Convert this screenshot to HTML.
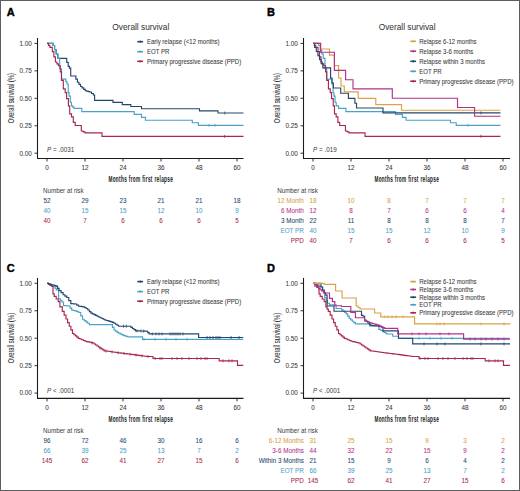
<!DOCTYPE html>
<html><head><meta charset="utf-8"><style>
html,body{margin:0;padding:0;background:#fff;}
body{width:520px;height:491px;overflow:hidden;position:relative;}
svg{position:absolute;left:0;top:0;}
text{font-family:"Liberation Sans", sans-serif;stroke-width:0.06px;}
</style></head><body>
<svg width="520" height="491" viewBox="0 0 520 491">
<rect x="0" y="0" width="520" height="491" fill="#fff"/>
<text x="6.80" y="16.10" font-size="11" fill="#000" stroke="#000" text-anchor="start" font-weight="bold" style="stroke-width:0.4px">A</text>
<text x="0" y="0" font-size="8.5" fill="#3a3a3a" stroke="#3a3a3a" text-anchor="middle" transform="translate(140.80,30.00) scale(0.98,1)" >Overall survival</text>
<line x1="37.5" y1="38" x2="37.5" y2="158.5" stroke="#1c1c1c" stroke-width="1.1"/>
<line x1="37.0" y1="158.5" x2="243.5" y2="158.5" stroke="#1c1c1c" stroke-width="1.1"/>
<line x1="34.5" y1="153.20" x2="37.5" y2="153.20" stroke="#1c1c1c" stroke-width="0.9"/>
<text x="31.90" y="155.50" font-size="6.4" fill="#3a3a3a" stroke="#3a3a3a" text-anchor="end" >0.00</text>
<line x1="34.5" y1="125.75" x2="37.5" y2="125.75" stroke="#1c1c1c" stroke-width="0.9"/>
<text x="31.90" y="128.05" font-size="6.4" fill="#3a3a3a" stroke="#3a3a3a" text-anchor="end" >0.25</text>
<line x1="34.5" y1="98.30" x2="37.5" y2="98.30" stroke="#1c1c1c" stroke-width="0.9"/>
<text x="31.90" y="100.60" font-size="6.4" fill="#3a3a3a" stroke="#3a3a3a" text-anchor="end" >0.50</text>
<line x1="34.5" y1="70.85" x2="37.5" y2="70.85" stroke="#1c1c1c" stroke-width="0.9"/>
<text x="31.90" y="73.15" font-size="6.4" fill="#3a3a3a" stroke="#3a3a3a" text-anchor="end" >0.75</text>
<line x1="34.5" y1="43.40" x2="37.5" y2="43.40" stroke="#1c1c1c" stroke-width="0.9"/>
<text x="31.90" y="45.70" font-size="6.4" fill="#3a3a3a" stroke="#3a3a3a" text-anchor="end" >1.00</text>
<line x1="47.00" y1="158.5" x2="47.00" y2="161.5" stroke="#1c1c1c" stroke-width="0.9"/>
<text x="47.00" y="170.00" font-size="6.4" fill="#3a3a3a" stroke="#3a3a3a" text-anchor="middle" >0</text>
<line x1="85.00" y1="158.5" x2="85.00" y2="161.5" stroke="#1c1c1c" stroke-width="0.9"/>
<text x="85.00" y="170.00" font-size="6.4" fill="#3a3a3a" stroke="#3a3a3a" text-anchor="middle" >12</text>
<line x1="123.00" y1="158.5" x2="123.00" y2="161.5" stroke="#1c1c1c" stroke-width="0.9"/>
<text x="123.00" y="170.00" font-size="6.4" fill="#3a3a3a" stroke="#3a3a3a" text-anchor="middle" >24</text>
<line x1="161.00" y1="158.5" x2="161.00" y2="161.5" stroke="#1c1c1c" stroke-width="0.9"/>
<text x="161.00" y="170.00" font-size="6.4" fill="#3a3a3a" stroke="#3a3a3a" text-anchor="middle" >36</text>
<line x1="199.00" y1="158.5" x2="199.00" y2="161.5" stroke="#1c1c1c" stroke-width="0.9"/>
<text x="199.00" y="170.00" font-size="6.4" fill="#3a3a3a" stroke="#3a3a3a" text-anchor="middle" >48</text>
<line x1="237.00" y1="158.5" x2="237.00" y2="161.5" stroke="#1c1c1c" stroke-width="0.9"/>
<text x="237.00" y="170.00" font-size="6.4" fill="#3a3a3a" stroke="#3a3a3a" text-anchor="middle" >60</text>
<text x="0" y="0" font-size="8.4" fill="#262626" text-anchor="middle" transform="translate(140.80,181.8) scale(0.56,1)" font-weight="bold" letter-spacing="0.6" stroke="#262626" stroke-width="0">Months from first relapse</text>
<text x="0" y="0" font-size="8.5" fill="#333" text-anchor="middle" transform="translate(14.40,98.2) rotate(-90) scale(0.685,1)" stroke="#333" stroke-width="0.25">Overall survival (%)</text>
<line x1="137.30" y1="41.70" x2="143.10" y2="41.70" stroke="#26486c" stroke-width="1.6"/>
<line x1="140.20" y1="40.40" x2="140.20" y2="43.00" stroke="#26486c" stroke-width="0.8"/>
<text x="0" y="0" font-size="6.4" fill="#3a3a3a" stroke="#3a3a3a" text-anchor="start" transform="translate(146.90,44.00) scale(0.945,1)" >Early relapse (&lt;12 months)</text>
<line x1="137.30" y1="51.70" x2="143.10" y2="51.70" stroke="#4aa2c8" stroke-width="1.6"/>
<line x1="140.20" y1="50.40" x2="140.20" y2="53.00" stroke="#4aa2c8" stroke-width="0.8"/>
<text x="0" y="0" font-size="6.4" fill="#3a3a3a" stroke="#3a3a3a" text-anchor="start" transform="translate(146.90,54.00) scale(0.945,1)" >EOT PR</text>
<line x1="137.30" y1="61.30" x2="143.10" y2="61.30" stroke="#a8284c" stroke-width="1.6"/>
<line x1="140.20" y1="60.00" x2="140.20" y2="62.60" stroke="#a8284c" stroke-width="0.8"/>
<text x="0" y="0" font-size="6.4" fill="#3a3a3a" stroke="#3a3a3a" text-anchor="start" transform="translate(146.90,63.60) scale(0.945,1)" >Primary progressive disease (PPD)</text>
<text x="47" y="151.6" font-size="6.3" fill="#3a3a3a"><tspan font-style="italic">P</tspan> = .0031</text>
<path d="M47.00,43.40L53.00,43.40L53.00,45.50H54.60V49.77H56.20V54.03H57.80V58.30L65.20,58.30H66.70V62.30H68.20V66.30H69.45V68.15H70.70V70.00L70.70,76.00L74.30,76.00H75.85V79.10H77.40V82.20H78.95V84.35H80.50V86.50H82.10V87.90H83.70V89.30H85.30V90.70H86.73V91.13H88.17V91.57H89.60V92.00H91.45V93.50H93.30V95.00H94.60V100.40L113.00,100.40L113.00,102.30L122.30,102.30L122.30,104.60L130.80,104.60L130.80,106.50L141.50,106.50L141.50,108.70L199.50,108.70L199.50,110.90L218.00,110.90L218.00,113.00L243.50,113.00" fill="none" stroke="#26486c" stroke-width="1.15" stroke-linejoin="miter"/>
<path d="M47.00,43.40L53.00,43.40L53.00,45.50H54.60V49.77H56.20V54.03H57.80V58.30H59.65V68.70H61.50V79.10L64.60,79.10H65.80V81.55H67.00V84.00H68.20V92.60H69.10V96.10H70.30V102.20H71.50V105.90H72.75V107.10H74.00V108.30L81.80,108.30L81.80,111.60L134.20,111.60L134.20,114.30L141.50,114.30L141.50,117.40L145.40,117.40L145.40,120.20L192.30,120.20L192.30,122.70L198.40,122.70L198.40,125.30L243.50,125.30" fill="none" stroke="#4aa2c8" stroke-width="1.15" stroke-linejoin="miter"/>
<path d="M47.00,43.40H48.45V45.35H49.90V47.30H52.30V51.60H53.85V56.80H55.40V62.00H56.90V63.85H58.40V65.70H60.30V71.80H61.50V80.30H63.30V88.90H65.20V92.60H66.60V98.60H68.40V105.90H69.70V113.80H71.50V116.90H73.30V122.40H75.20V125.50L80.70,125.50H81.30V131.00H83.15V131.90H85.00V132.80L102.00,132.80L102.00,136.30L243.50,136.30" fill="none" stroke="#a8284c" stroke-width="1.15" stroke-linejoin="miter"/>
<line x1="224.80" y1="111.50" x2="224.80" y2="114.50" stroke="#26486c" stroke-width="0.8"/>
<line x1="224.60" y1="134.90" x2="224.60" y2="137.90" stroke="#a8284c" stroke-width="0.8"/>
<line x1="209.00" y1="123.80" x2="209.00" y2="126.80" stroke="#4aa2c8" stroke-width="0.8"/>
<line x1="215.00" y1="123.80" x2="215.00" y2="126.80" stroke="#4aa2c8" stroke-width="0.8"/>
<text x="43.0" y="192.9" font-size="6.3" fill="#3a3a3a" textLength="40.6" lengthAdjust="spacingAndGlyphs">Number at risk</text>
<text x="47.00" y="202.80" font-size="6.3" fill="#26486c" stroke="#26486c" text-anchor="middle" >52</text>
<text x="85.00" y="202.80" font-size="6.3" fill="#26486c" stroke="#26486c" text-anchor="middle" >29</text>
<text x="123.00" y="202.80" font-size="6.3" fill="#26486c" stroke="#26486c" text-anchor="middle" >23</text>
<text x="161.00" y="202.80" font-size="6.3" fill="#26486c" stroke="#26486c" text-anchor="middle" >21</text>
<text x="199.00" y="202.80" font-size="6.3" fill="#26486c" stroke="#26486c" text-anchor="middle" >21</text>
<text x="237.00" y="202.80" font-size="6.3" fill="#26486c" stroke="#26486c" text-anchor="middle" >18</text>
<text x="47.00" y="212.80" font-size="6.3" fill="#4aa2c8" stroke="#4aa2c8" text-anchor="middle" >40</text>
<text x="85.00" y="212.80" font-size="6.3" fill="#4aa2c8" stroke="#4aa2c8" text-anchor="middle" >15</text>
<text x="123.00" y="212.80" font-size="6.3" fill="#4aa2c8" stroke="#4aa2c8" text-anchor="middle" >15</text>
<text x="161.00" y="212.80" font-size="6.3" fill="#4aa2c8" stroke="#4aa2c8" text-anchor="middle" >12</text>
<text x="199.00" y="212.80" font-size="6.3" fill="#4aa2c8" stroke="#4aa2c8" text-anchor="middle" >10</text>
<text x="237.00" y="212.80" font-size="6.3" fill="#4aa2c8" stroke="#4aa2c8" text-anchor="middle" >9</text>
<text x="47.00" y="222.80" font-size="6.3" fill="#a8284c" stroke="#a8284c" text-anchor="middle" >40</text>
<text x="85.00" y="222.80" font-size="6.3" fill="#a8284c" stroke="#a8284c" text-anchor="middle" >7</text>
<text x="123.00" y="222.80" font-size="6.3" fill="#a8284c" stroke="#a8284c" text-anchor="middle" >6</text>
<text x="161.00" y="222.80" font-size="6.3" fill="#a8284c" stroke="#a8284c" text-anchor="middle" >6</text>
<text x="199.00" y="222.80" font-size="6.3" fill="#a8284c" stroke="#a8284c" text-anchor="middle" >6</text>
<text x="237.00" y="222.80" font-size="6.3" fill="#a8284c" stroke="#a8284c" text-anchor="middle" >5</text>
<text x="267.00" y="16.10" font-size="11" fill="#000" stroke="#000" text-anchor="start" font-weight="bold" style="stroke-width:0.4px">B</text>
<text x="0" y="0" font-size="8.5" fill="#3a3a3a" stroke="#3a3a3a" text-anchor="middle" transform="translate(407.10,30.00) scale(0.98,1)" >Overall survival</text>
<line x1="303.5" y1="38" x2="303.5" y2="158.5" stroke="#1c1c1c" stroke-width="1.1"/>
<line x1="303.0" y1="158.5" x2="510.0" y2="158.5" stroke="#1c1c1c" stroke-width="1.1"/>
<line x1="300.5" y1="153.20" x2="303.5" y2="153.20" stroke="#1c1c1c" stroke-width="0.9"/>
<text x="297.90" y="155.50" font-size="6.4" fill="#3a3a3a" stroke="#3a3a3a" text-anchor="end" >0.00</text>
<line x1="300.5" y1="125.75" x2="303.5" y2="125.75" stroke="#1c1c1c" stroke-width="0.9"/>
<text x="297.90" y="128.05" font-size="6.4" fill="#3a3a3a" stroke="#3a3a3a" text-anchor="end" >0.25</text>
<line x1="300.5" y1="98.30" x2="303.5" y2="98.30" stroke="#1c1c1c" stroke-width="0.9"/>
<text x="297.90" y="100.60" font-size="6.4" fill="#3a3a3a" stroke="#3a3a3a" text-anchor="end" >0.50</text>
<line x1="300.5" y1="70.85" x2="303.5" y2="70.85" stroke="#1c1c1c" stroke-width="0.9"/>
<text x="297.90" y="73.15" font-size="6.4" fill="#3a3a3a" stroke="#3a3a3a" text-anchor="end" >0.75</text>
<line x1="300.5" y1="43.40" x2="303.5" y2="43.40" stroke="#1c1c1c" stroke-width="0.9"/>
<text x="297.90" y="45.70" font-size="6.4" fill="#3a3a3a" stroke="#3a3a3a" text-anchor="end" >1.00</text>
<line x1="313.00" y1="158.5" x2="313.00" y2="161.5" stroke="#1c1c1c" stroke-width="0.9"/>
<text x="313.00" y="170.00" font-size="6.4" fill="#3a3a3a" stroke="#3a3a3a" text-anchor="middle" >0</text>
<line x1="351.00" y1="158.5" x2="351.00" y2="161.5" stroke="#1c1c1c" stroke-width="0.9"/>
<text x="351.00" y="170.00" font-size="6.4" fill="#3a3a3a" stroke="#3a3a3a" text-anchor="middle" >12</text>
<line x1="389.00" y1="158.5" x2="389.00" y2="161.5" stroke="#1c1c1c" stroke-width="0.9"/>
<text x="389.00" y="170.00" font-size="6.4" fill="#3a3a3a" stroke="#3a3a3a" text-anchor="middle" >24</text>
<line x1="427.00" y1="158.5" x2="427.00" y2="161.5" stroke="#1c1c1c" stroke-width="0.9"/>
<text x="427.00" y="170.00" font-size="6.4" fill="#3a3a3a" stroke="#3a3a3a" text-anchor="middle" >36</text>
<line x1="465.00" y1="158.5" x2="465.00" y2="161.5" stroke="#1c1c1c" stroke-width="0.9"/>
<text x="465.00" y="170.00" font-size="6.4" fill="#3a3a3a" stroke="#3a3a3a" text-anchor="middle" >48</text>
<line x1="503.00" y1="158.5" x2="503.00" y2="161.5" stroke="#1c1c1c" stroke-width="0.9"/>
<text x="503.00" y="170.00" font-size="6.4" fill="#3a3a3a" stroke="#3a3a3a" text-anchor="middle" >60</text>
<text x="0" y="0" font-size="8.4" fill="#262626" text-anchor="middle" transform="translate(406.80,181.8) scale(0.56,1)" font-weight="bold" letter-spacing="0.6" stroke="#262626" stroke-width="0">Months from first relapse</text>
<text x="0" y="0" font-size="8.5" fill="#333" text-anchor="middle" transform="translate(280.40,98.2) rotate(-90) scale(0.685,1)" stroke="#333" stroke-width="0.25">Overall survival (%)</text>
<line x1="410.30" y1="41.30" x2="416.10" y2="41.30" stroke="#daa24a" stroke-width="1.6"/>
<line x1="413.20" y1="40.00" x2="413.20" y2="42.60" stroke="#daa24a" stroke-width="0.8"/>
<text x="0" y="0" font-size="6.4" fill="#3a3a3a" stroke="#3a3a3a" text-anchor="start" transform="translate(419.20,43.60) scale(0.945,1)" >Relapse 6-12 months</text>
<line x1="410.30" y1="51.20" x2="416.10" y2="51.20" stroke="#b4318a" stroke-width="1.6"/>
<line x1="413.20" y1="49.90" x2="413.20" y2="52.50" stroke="#b4318a" stroke-width="0.8"/>
<text x="0" y="0" font-size="6.4" fill="#3a3a3a" stroke="#3a3a3a" text-anchor="start" transform="translate(419.20,53.50) scale(0.945,1)" >Relapse 3-6 months</text>
<line x1="410.30" y1="61.30" x2="416.10" y2="61.30" stroke="#26486c" stroke-width="1.6"/>
<line x1="413.20" y1="60.00" x2="413.20" y2="62.60" stroke="#26486c" stroke-width="0.8"/>
<text x="0" y="0" font-size="6.4" fill="#3a3a3a" stroke="#3a3a3a" text-anchor="start" transform="translate(419.20,63.60) scale(0.945,1)" >Relapse within 3 months</text>
<line x1="410.30" y1="71.30" x2="416.10" y2="71.30" stroke="#4aa2c8" stroke-width="1.6"/>
<line x1="413.20" y1="70.00" x2="413.20" y2="72.60" stroke="#4aa2c8" stroke-width="0.8"/>
<text x="0" y="0" font-size="6.4" fill="#3a3a3a" stroke="#3a3a3a" text-anchor="start" transform="translate(419.20,73.60) scale(0.945,1)" >EOT PR</text>
<line x1="410.30" y1="81.20" x2="416.10" y2="81.20" stroke="#a8284c" stroke-width="1.6"/>
<line x1="413.20" y1="79.90" x2="413.20" y2="82.50" stroke="#a8284c" stroke-width="0.8"/>
<text x="0" y="0" font-size="6.4" fill="#3a3a3a" stroke="#3a3a3a" text-anchor="start" transform="translate(419.20,83.50) scale(0.945,1)" >Primary progressive disease (PPD)</text>
<text x="313.0" y="151.6" font-size="6.3" fill="#3a3a3a"><tspan font-style="italic">P</tspan> = .019</text>
<path d="M313.00,43.40L318.68,43.40L318.68,45.50H320.19V49.77H321.70V54.03H323.22V58.30H324.97V68.70H326.72V79.10L329.65,79.10H331.92V84.00H333.06V92.60H333.91V96.10H335.04V102.20H336.18V105.90H338.54V108.30L345.92,108.30L345.92,111.60L395.49,111.60L395.49,114.30L402.40,114.30L402.40,117.40L406.09,117.40L406.09,120.20L450.45,120.20L450.45,122.70L456.22,122.70L456.22,125.30L500.50,125.30" fill="none" stroke="#4aa2c8" stroke-width="1.15" stroke-linejoin="miter"/>
<path d="M313.00,43.40H314.37V45.35H315.74V47.30H318.01V51.60H319.48V56.80H320.95V62.00H322.37V63.85H323.78V65.70H325.58V71.80H326.72V80.30H328.42V88.90H330.22V92.60H331.54V98.60H333.24V105.90H334.47V113.80H336.18V116.90H337.88V122.40H339.68V125.50L344.88,125.50H345.45V131.00H347.20V131.90H348.95V132.80L365.03,132.80L365.03,136.30L500.50,136.30" fill="none" stroke="#a8284c" stroke-width="1.15" stroke-linejoin="miter"/>
<path d="M313.00,43.40H314.63V47.47H316.27V51.53H317.90V55.60H319.53V59.67H321.17V63.73H322.80V67.80L330.60,67.80L330.60,78.00H332.00V83.00H333.40V88.00L340.70,88.00L340.70,93.20L348.40,93.20L348.40,98.30L354.90,98.30L354.90,103.20L356.50,103.20L356.50,108.00L383.00,108.00L383.00,112.90L500.50,112.90" fill="none" stroke="#26486c" stroke-width="1.15" stroke-linejoin="miter"/>
<path d="M313.00,43.40L320.60,43.40L320.60,49.00L329.50,49.00L329.50,55.10L334.40,55.10L334.40,65.60L338.60,65.60L338.60,78.00L341.00,78.00L341.00,86.00L344.30,86.00L344.30,91.80L358.20,91.80L358.20,98.30L375.80,98.30L375.80,104.60L401.50,104.60L401.50,110.20L500.50,110.20" fill="none" stroke="#daa24a" stroke-width="1.15" stroke-linejoin="miter"/>
<path d="M313.00,43.40L320.60,43.40L320.60,52.20L334.40,52.20L334.40,70.30L345.60,70.30L345.60,79.70L353.00,79.70L353.00,88.90L392.30,88.90L392.30,98.20L457.50,98.20L457.50,107.50L474.60,107.50L474.60,116.20L500.50,116.20" fill="none" stroke="#b4318a" stroke-width="1.15" stroke-linejoin="miter"/>
<line x1="481.00" y1="111.40" x2="481.00" y2="114.40" stroke="#26486c" stroke-width="0.8"/>
<line x1="481.00" y1="134.80" x2="481.00" y2="137.80" stroke="#a8284c" stroke-width="0.8"/>
<line x1="468.00" y1="123.80" x2="468.00" y2="126.80" stroke="#4aa2c8" stroke-width="0.8"/>
<text x="277.2" y="192.9" font-size="6.3" fill="#3a3a3a" textLength="40.6" lengthAdjust="spacingAndGlyphs">Number at risk</text>
<text x="303.80" y="202.80" font-size="6.3" fill="#daa24a" stroke="#daa24a" text-anchor="end" >12 Month</text>
<text x="303.80" y="212.80" font-size="6.3" fill="#b4318a" stroke="#b4318a" text-anchor="end" >6 Month</text>
<text x="303.80" y="222.80" font-size="6.3" fill="#26486c" stroke="#26486c" text-anchor="end" >3 Month</text>
<text x="303.80" y="232.80" font-size="6.3" fill="#4aa2c8" stroke="#4aa2c8" text-anchor="end" >EOT PR</text>
<text x="303.80" y="242.80" font-size="6.3" fill="#a8284c" stroke="#a8284c" text-anchor="end" >PPD</text>
<text x="313.00" y="202.80" font-size="6.3" fill="#daa24a" stroke="#daa24a" text-anchor="middle" >18</text>
<text x="351.00" y="202.80" font-size="6.3" fill="#daa24a" stroke="#daa24a" text-anchor="middle" >10</text>
<text x="389.00" y="202.80" font-size="6.3" fill="#daa24a" stroke="#daa24a" text-anchor="middle" >8</text>
<text x="427.00" y="202.80" font-size="6.3" fill="#daa24a" stroke="#daa24a" text-anchor="middle" >7</text>
<text x="465.00" y="202.80" font-size="6.3" fill="#daa24a" stroke="#daa24a" text-anchor="middle" >7</text>
<text x="503.00" y="202.80" font-size="6.3" fill="#daa24a" stroke="#daa24a" text-anchor="middle" >7</text>
<text x="313.00" y="212.80" font-size="6.3" fill="#b4318a" stroke="#b4318a" text-anchor="middle" >12</text>
<text x="351.00" y="212.80" font-size="6.3" fill="#b4318a" stroke="#b4318a" text-anchor="middle" >8</text>
<text x="389.00" y="212.80" font-size="6.3" fill="#b4318a" stroke="#b4318a" text-anchor="middle" >7</text>
<text x="427.00" y="212.80" font-size="6.3" fill="#b4318a" stroke="#b4318a" text-anchor="middle" >6</text>
<text x="465.00" y="212.80" font-size="6.3" fill="#b4318a" stroke="#b4318a" text-anchor="middle" >6</text>
<text x="503.00" y="212.80" font-size="6.3" fill="#b4318a" stroke="#b4318a" text-anchor="middle" >4</text>
<text x="313.00" y="222.80" font-size="6.3" fill="#26486c" stroke="#26486c" text-anchor="middle" >22</text>
<text x="351.00" y="222.80" font-size="6.3" fill="#26486c" stroke="#26486c" text-anchor="middle" >11</text>
<text x="389.00" y="222.80" font-size="6.3" fill="#26486c" stroke="#26486c" text-anchor="middle" >8</text>
<text x="427.00" y="222.80" font-size="6.3" fill="#26486c" stroke="#26486c" text-anchor="middle" >8</text>
<text x="465.00" y="222.80" font-size="6.3" fill="#26486c" stroke="#26486c" text-anchor="middle" >8</text>
<text x="503.00" y="222.80" font-size="6.3" fill="#26486c" stroke="#26486c" text-anchor="middle" >7</text>
<text x="313.00" y="232.80" font-size="6.3" fill="#4aa2c8" stroke="#4aa2c8" text-anchor="middle" >40</text>
<text x="351.00" y="232.80" font-size="6.3" fill="#4aa2c8" stroke="#4aa2c8" text-anchor="middle" >15</text>
<text x="389.00" y="232.80" font-size="6.3" fill="#4aa2c8" stroke="#4aa2c8" text-anchor="middle" >15</text>
<text x="427.00" y="232.80" font-size="6.3" fill="#4aa2c8" stroke="#4aa2c8" text-anchor="middle" >12</text>
<text x="465.00" y="232.80" font-size="6.3" fill="#4aa2c8" stroke="#4aa2c8" text-anchor="middle" >10</text>
<text x="503.00" y="232.80" font-size="6.3" fill="#4aa2c8" stroke="#4aa2c8" text-anchor="middle" >9</text>
<text x="313.00" y="242.80" font-size="6.3" fill="#a8284c" stroke="#a8284c" text-anchor="middle" >40</text>
<text x="351.00" y="242.80" font-size="6.3" fill="#a8284c" stroke="#a8284c" text-anchor="middle" >7</text>
<text x="389.00" y="242.80" font-size="6.3" fill="#a8284c" stroke="#a8284c" text-anchor="middle" >6</text>
<text x="427.00" y="242.80" font-size="6.3" fill="#a8284c" stroke="#a8284c" text-anchor="middle" >6</text>
<text x="465.00" y="242.80" font-size="6.3" fill="#a8284c" stroke="#a8284c" text-anchor="middle" >6</text>
<text x="503.00" y="242.80" font-size="6.3" fill="#a8284c" stroke="#a8284c" text-anchor="middle" >5</text>
<text x="6.80" y="271.80" font-size="11" fill="#000" stroke="#000" text-anchor="start" font-weight="bold" style="stroke-width:0.4px">C</text>
<line x1="37.5" y1="277.9" x2="37.5" y2="398.4" stroke="#1c1c1c" stroke-width="1.1"/>
<line x1="37.0" y1="398.4" x2="243.5" y2="398.4" stroke="#1c1c1c" stroke-width="1.1"/>
<line x1="34.5" y1="393.10" x2="37.5" y2="393.10" stroke="#1c1c1c" stroke-width="0.9"/>
<text x="31.90" y="395.40" font-size="6.4" fill="#3a3a3a" stroke="#3a3a3a" text-anchor="end" >0.00</text>
<line x1="34.5" y1="365.65" x2="37.5" y2="365.65" stroke="#1c1c1c" stroke-width="0.9"/>
<text x="31.90" y="367.95" font-size="6.4" fill="#3a3a3a" stroke="#3a3a3a" text-anchor="end" >0.25</text>
<line x1="34.5" y1="338.20" x2="37.5" y2="338.20" stroke="#1c1c1c" stroke-width="0.9"/>
<text x="31.90" y="340.50" font-size="6.4" fill="#3a3a3a" stroke="#3a3a3a" text-anchor="end" >0.50</text>
<line x1="34.5" y1="310.75" x2="37.5" y2="310.75" stroke="#1c1c1c" stroke-width="0.9"/>
<text x="31.90" y="313.05" font-size="6.4" fill="#3a3a3a" stroke="#3a3a3a" text-anchor="end" >0.75</text>
<line x1="34.5" y1="283.30" x2="37.5" y2="283.30" stroke="#1c1c1c" stroke-width="0.9"/>
<text x="31.90" y="285.60" font-size="6.4" fill="#3a3a3a" stroke="#3a3a3a" text-anchor="end" >1.00</text>
<line x1="47.00" y1="398.4" x2="47.00" y2="401.4" stroke="#1c1c1c" stroke-width="0.9"/>
<text x="47.00" y="409.90" font-size="6.4" fill="#3a3a3a" stroke="#3a3a3a" text-anchor="middle" >0</text>
<line x1="85.00" y1="398.4" x2="85.00" y2="401.4" stroke="#1c1c1c" stroke-width="0.9"/>
<text x="85.00" y="409.90" font-size="6.4" fill="#3a3a3a" stroke="#3a3a3a" text-anchor="middle" >12</text>
<line x1="123.00" y1="398.4" x2="123.00" y2="401.4" stroke="#1c1c1c" stroke-width="0.9"/>
<text x="123.00" y="409.90" font-size="6.4" fill="#3a3a3a" stroke="#3a3a3a" text-anchor="middle" >24</text>
<line x1="161.00" y1="398.4" x2="161.00" y2="401.4" stroke="#1c1c1c" stroke-width="0.9"/>
<text x="161.00" y="409.90" font-size="6.4" fill="#3a3a3a" stroke="#3a3a3a" text-anchor="middle" >36</text>
<line x1="199.00" y1="398.4" x2="199.00" y2="401.4" stroke="#1c1c1c" stroke-width="0.9"/>
<text x="199.00" y="409.90" font-size="6.4" fill="#3a3a3a" stroke="#3a3a3a" text-anchor="middle" >48</text>
<line x1="237.00" y1="398.4" x2="237.00" y2="401.4" stroke="#1c1c1c" stroke-width="0.9"/>
<text x="237.00" y="409.90" font-size="6.4" fill="#3a3a3a" stroke="#3a3a3a" text-anchor="middle" >60</text>
<text x="0" y="0" font-size="8.4" fill="#262626" text-anchor="middle" transform="translate(140.80,421.70000000000005) scale(0.56,1)" font-weight="bold" letter-spacing="0.6" stroke="#262626" stroke-width="0">Months from first relapse</text>
<text x="0" y="0" font-size="8.5" fill="#333" text-anchor="middle" transform="translate(14.40,338.1) rotate(-90) scale(0.685,1)" stroke="#333" stroke-width="0.25">Overall survival (%)</text>
<line x1="137.30" y1="281.60" x2="143.10" y2="281.60" stroke="#26486c" stroke-width="1.6"/>
<line x1="140.20" y1="280.30" x2="140.20" y2="282.90" stroke="#26486c" stroke-width="0.8"/>
<text x="0" y="0" font-size="6.4" fill="#3a3a3a" stroke="#3a3a3a" text-anchor="start" transform="translate(146.90,283.90) scale(0.945,1)" >Early relapse (&lt;12 months)</text>
<line x1="137.30" y1="291.60" x2="143.10" y2="291.60" stroke="#4aa2c8" stroke-width="1.6"/>
<line x1="140.20" y1="290.30" x2="140.20" y2="292.90" stroke="#4aa2c8" stroke-width="0.8"/>
<text x="0" y="0" font-size="6.4" fill="#3a3a3a" stroke="#3a3a3a" text-anchor="start" transform="translate(146.90,293.90) scale(0.945,1)" >EOT PR</text>
<line x1="137.30" y1="301.20" x2="143.10" y2="301.20" stroke="#a8284c" stroke-width="1.6"/>
<line x1="140.20" y1="299.90" x2="140.20" y2="302.50" stroke="#a8284c" stroke-width="0.8"/>
<text x="0" y="0" font-size="6.4" fill="#3a3a3a" stroke="#3a3a3a" text-anchor="start" transform="translate(146.90,303.50) scale(0.945,1)" >Primary progressive disease (PPD)</text>
<text x="47" y="392.70000000000005" font-size="6.3" fill="#3a3a3a"><tspan font-style="italic">P</tspan> &lt; .0001</text>
<path d="M47.00,283.30H48.70V284.10H50.40V284.90H52.10V285.70H53.80V286.50H55.00V288.15H56.20V289.80H58.60V298.70H60.25V300.35H61.90V302.00H63.50V305.60H65.13V305.73H66.77V305.87H68.40V306.00H70.05V308.05H71.70V310.10H73.33V310.50H74.97V310.90H76.60V311.30H77.80V311.90H79.00V312.50H80.75V315.85H82.50V319.20H84.22V320.55H85.95V321.90H87.68V323.25H89.40V324.60L110.90,324.60H112.45V327.30H114.00V330.00H115.55V331.15H117.10V332.30H118.62V333.07H120.15V333.85H121.67V334.62H123.20V335.40H124.73V335.90H126.27V336.40H127.80V336.90L140.20,336.90H142.50V339.40L243.30,339.40" fill="none" stroke="#4aa2c8" stroke-width="1.15" stroke-linejoin="miter"/>
<path d="M47.00,283.30H48.57V284.37H50.13V285.43H51.70V286.50H53.00V293.80H54.20V296.30H56.20V298.95H58.20V301.60H59.90V306.90H62.30V311.30H64.15V315.15H66.00V319.00H67.62V322.62H69.25V326.25H70.88V329.88H72.50V333.50H73.95V334.70H75.40V335.90H76.85V337.10H78.30V338.30H79.97V339.02H81.65V339.75H83.33V340.48H85.00V341.20H86.54V341.56H88.08V341.92H89.62V342.28H91.16V342.64H92.70V343.00H94.15V344.00H95.60V345.00H97.05V346.00H98.50V347.00H99.92V347.95H101.35V348.90H102.78V349.85H104.20V350.80H105.89V351.04H107.58V351.27H109.26V351.51H110.95V351.75H112.64V351.99H114.33V352.23H116.01V352.46H117.70V352.70H119.23V352.89H120.76V353.08H122.29V353.27H123.82V353.46H125.35V353.65H126.88V353.84H128.41V354.03H129.94V354.22H131.47V354.41H133.00V354.60H134.69V354.84H136.38V355.08H138.06V355.31H139.75V355.55H141.44V355.79H143.12V356.02H144.81V356.26H146.50V356.50L153.00,356.50L153.00,358.50L219.20,358.50L219.20,360.80L237.50,360.80L237.50,365.30L243.30,365.30" fill="none" stroke="#a8284c" stroke-width="1.15" stroke-linejoin="miter"/>
<path d="M47.00,283.30H48.43V283.83H49.87V284.37H51.30V284.90H53.00V285.00H54.60V285.55H56.20V286.10H57.60V288.35H59.00V290.60H61.10V292.60H63.10V294.70H64.95V296.10H66.80V297.50H68.80V300.55H70.80V303.60H72.17V303.73H73.53V303.87H74.90V304.00H76.75V305.10H78.60V306.20H80.13V306.43H81.67V306.67H83.20V306.90H84.75V307.70H86.30V308.50H87.83V310.03H89.37V311.57H90.90V313.10H92.45V313.88H94.00V314.65H95.55V315.43H97.10V316.20H98.64V316.96H100.18V317.72H101.72V318.48H103.26V319.24H104.80V320.00H106.34V320.46H107.88V320.92H109.42V321.38H110.96V321.84H112.50V322.30H114.03V323.27H115.55V324.25H117.07V325.23H118.60V326.20L129.40,326.20H130.95V327.35H132.50V328.50H134.00V329.65H135.50V330.80H137.04V330.86H138.59V330.91H140.13V330.97H141.67V331.03H143.21V331.09H144.76V331.14H146.30V331.20H147.75V332.55H149.20V333.90L198.60,333.90L198.60,337.50L243.30,337.50" fill="none" stroke="#26486c" stroke-width="1.15" stroke-linejoin="miter"/>
<line x1="123.50" y1="324.70" x2="123.50" y2="327.70" stroke="#26486c" stroke-width="0.8"/>
<line x1="126.30" y1="324.70" x2="126.30" y2="327.70" stroke="#26486c" stroke-width="0.8"/>
<line x1="137.00" y1="329.36" x2="137.00" y2="332.36" stroke="#26486c" stroke-width="0.8"/>
<line x1="141.00" y1="329.50" x2="141.00" y2="332.50" stroke="#26486c" stroke-width="0.8"/>
<line x1="143.70" y1="329.60" x2="143.70" y2="332.60" stroke="#26486c" stroke-width="0.8"/>
<line x1="152.30" y1="332.40" x2="152.30" y2="335.40" stroke="#26486c" stroke-width="0.8"/>
<line x1="156.00" y1="332.40" x2="156.00" y2="335.40" stroke="#26486c" stroke-width="0.8"/>
<line x1="159.00" y1="332.40" x2="159.00" y2="335.40" stroke="#26486c" stroke-width="0.8"/>
<line x1="162.00" y1="332.40" x2="162.00" y2="335.40" stroke="#26486c" stroke-width="0.8"/>
<line x1="170.00" y1="332.40" x2="170.00" y2="335.40" stroke="#26486c" stroke-width="0.8"/>
<line x1="172.00" y1="332.40" x2="172.00" y2="335.40" stroke="#26486c" stroke-width="0.8"/>
<line x1="174.00" y1="332.40" x2="174.00" y2="335.40" stroke="#26486c" stroke-width="0.8"/>
<line x1="176.00" y1="332.40" x2="176.00" y2="335.40" stroke="#26486c" stroke-width="0.8"/>
<line x1="178.00" y1="332.40" x2="178.00" y2="335.40" stroke="#26486c" stroke-width="0.8"/>
<line x1="180.00" y1="332.40" x2="180.00" y2="335.40" stroke="#26486c" stroke-width="0.8"/>
<line x1="183.00" y1="332.40" x2="183.00" y2="335.40" stroke="#26486c" stroke-width="0.8"/>
<line x1="92.00" y1="341.34" x2="92.00" y2="344.34" stroke="#a8284c" stroke-width="0.8"/>
<line x1="100.00" y1="346.50" x2="100.00" y2="349.50" stroke="#a8284c" stroke-width="0.8"/>
<line x1="106.00" y1="349.55" x2="106.00" y2="352.55" stroke="#a8284c" stroke-width="0.8"/>
<line x1="112.00" y1="350.40" x2="112.00" y2="353.40" stroke="#a8284c" stroke-width="0.8"/>
<line x1="118.00" y1="351.24" x2="118.00" y2="354.24" stroke="#a8284c" stroke-width="0.8"/>
<line x1="124.00" y1="351.98" x2="124.00" y2="354.98" stroke="#a8284c" stroke-width="0.8"/>
<line x1="130.00" y1="352.73" x2="130.00" y2="355.73" stroke="#a8284c" stroke-width="0.8"/>
<line x1="136.00" y1="353.52" x2="136.00" y2="356.52" stroke="#a8284c" stroke-width="0.8"/>
<line x1="142.00" y1="354.37" x2="142.00" y2="357.37" stroke="#a8284c" stroke-width="0.8"/>
<line x1="148.00" y1="355.00" x2="148.00" y2="358.00" stroke="#a8284c" stroke-width="0.8"/>
<line x1="207.00" y1="336.00" x2="207.00" y2="339.00" stroke="#26486c" stroke-width="0.8"/>
<line x1="210.00" y1="336.00" x2="210.00" y2="339.00" stroke="#26486c" stroke-width="0.8"/>
<line x1="213.00" y1="336.00" x2="213.00" y2="339.00" stroke="#26486c" stroke-width="0.8"/>
<line x1="216.00" y1="336.00" x2="216.00" y2="339.00" stroke="#26486c" stroke-width="0.8"/>
<line x1="218.00" y1="336.00" x2="218.00" y2="339.00" stroke="#26486c" stroke-width="0.8"/>
<line x1="220.00" y1="336.00" x2="220.00" y2="339.00" stroke="#26486c" stroke-width="0.8"/>
<line x1="231.00" y1="336.00" x2="231.00" y2="339.00" stroke="#26486c" stroke-width="0.8"/>
<line x1="239.00" y1="336.00" x2="239.00" y2="339.00" stroke="#26486c" stroke-width="0.8"/>
<line x1="144.00" y1="337.80" x2="144.00" y2="340.80" stroke="#4aa2c8" stroke-width="0.8"/>
<line x1="155.00" y1="337.80" x2="155.00" y2="340.80" stroke="#4aa2c8" stroke-width="0.8"/>
<line x1="166.00" y1="337.80" x2="166.00" y2="340.80" stroke="#4aa2c8" stroke-width="0.8"/>
<line x1="176.00" y1="337.80" x2="176.00" y2="340.80" stroke="#4aa2c8" stroke-width="0.8"/>
<line x1="187.00" y1="337.80" x2="187.00" y2="340.80" stroke="#4aa2c8" stroke-width="0.8"/>
<line x1="155.00" y1="357.00" x2="155.00" y2="360.00" stroke="#a8284c" stroke-width="0.8"/>
<line x1="160.00" y1="357.00" x2="160.00" y2="360.00" stroke="#a8284c" stroke-width="0.8"/>
<line x1="162.00" y1="357.00" x2="162.00" y2="360.00" stroke="#a8284c" stroke-width="0.8"/>
<line x1="172.00" y1="357.00" x2="172.00" y2="360.00" stroke="#a8284c" stroke-width="0.8"/>
<line x1="177.00" y1="357.00" x2="177.00" y2="360.00" stroke="#a8284c" stroke-width="0.8"/>
<line x1="182.00" y1="357.00" x2="182.00" y2="360.00" stroke="#a8284c" stroke-width="0.8"/>
<line x1="189.00" y1="357.00" x2="189.00" y2="360.00" stroke="#a8284c" stroke-width="0.8"/>
<line x1="197.00" y1="357.00" x2="197.00" y2="360.00" stroke="#a8284c" stroke-width="0.8"/>
<line x1="201.00" y1="357.00" x2="201.00" y2="360.00" stroke="#a8284c" stroke-width="0.8"/>
<line x1="205.00" y1="357.00" x2="205.00" y2="360.00" stroke="#a8284c" stroke-width="0.8"/>
<line x1="207.00" y1="357.00" x2="207.00" y2="360.00" stroke="#a8284c" stroke-width="0.8"/>
<line x1="223.00" y1="359.30" x2="223.00" y2="362.30" stroke="#a8284c" stroke-width="0.8"/>
<line x1="229.00" y1="359.30" x2="229.00" y2="362.30" stroke="#a8284c" stroke-width="0.8"/>
<line x1="232.00" y1="359.30" x2="232.00" y2="362.30" stroke="#a8284c" stroke-width="0.8"/>
<text x="43.0" y="432.8" font-size="6.3" fill="#3a3a3a" textLength="40.6" lengthAdjust="spacingAndGlyphs">Number at risk</text>
<text x="47.00" y="442.70" font-size="6.3" fill="#26486c" stroke="#26486c" text-anchor="middle" >96</text>
<text x="85.00" y="442.70" font-size="6.3" fill="#26486c" stroke="#26486c" text-anchor="middle" >72</text>
<text x="123.00" y="442.70" font-size="6.3" fill="#26486c" stroke="#26486c" text-anchor="middle" >46</text>
<text x="161.00" y="442.70" font-size="6.3" fill="#26486c" stroke="#26486c" text-anchor="middle" >30</text>
<text x="199.00" y="442.70" font-size="6.3" fill="#26486c" stroke="#26486c" text-anchor="middle" >16</text>
<text x="237.00" y="442.70" font-size="6.3" fill="#26486c" stroke="#26486c" text-anchor="middle" >6</text>
<text x="47.00" y="452.70" font-size="6.3" fill="#4aa2c8" stroke="#4aa2c8" text-anchor="middle" >66</text>
<text x="85.00" y="452.70" font-size="6.3" fill="#4aa2c8" stroke="#4aa2c8" text-anchor="middle" >39</text>
<text x="123.00" y="452.70" font-size="6.3" fill="#4aa2c8" stroke="#4aa2c8" text-anchor="middle" >25</text>
<text x="161.00" y="452.70" font-size="6.3" fill="#4aa2c8" stroke="#4aa2c8" text-anchor="middle" >13</text>
<text x="199.00" y="452.70" font-size="6.3" fill="#4aa2c8" stroke="#4aa2c8" text-anchor="middle" >7</text>
<text x="237.00" y="452.70" font-size="6.3" fill="#4aa2c8" stroke="#4aa2c8" text-anchor="middle" >2</text>
<text x="47.00" y="462.70" font-size="6.3" fill="#a8284c" stroke="#a8284c" text-anchor="middle" >145</text>
<text x="85.00" y="462.70" font-size="6.3" fill="#a8284c" stroke="#a8284c" text-anchor="middle" >62</text>
<text x="123.00" y="462.70" font-size="6.3" fill="#a8284c" stroke="#a8284c" text-anchor="middle" >41</text>
<text x="161.00" y="462.70" font-size="6.3" fill="#a8284c" stroke="#a8284c" text-anchor="middle" >27</text>
<text x="199.00" y="462.70" font-size="6.3" fill="#a8284c" stroke="#a8284c" text-anchor="middle" >15</text>
<text x="237.00" y="462.70" font-size="6.3" fill="#a8284c" stroke="#a8284c" text-anchor="middle" >6</text>
<text x="267.00" y="271.80" font-size="11" fill="#000" stroke="#000" text-anchor="start" font-weight="bold" style="stroke-width:0.4px">D</text>
<line x1="303.5" y1="277.9" x2="303.5" y2="398.4" stroke="#1c1c1c" stroke-width="1.1"/>
<line x1="303.0" y1="398.4" x2="510.0" y2="398.4" stroke="#1c1c1c" stroke-width="1.1"/>
<line x1="300.5" y1="393.10" x2="303.5" y2="393.10" stroke="#1c1c1c" stroke-width="0.9"/>
<text x="297.90" y="395.40" font-size="6.4" fill="#3a3a3a" stroke="#3a3a3a" text-anchor="end" >0.00</text>
<line x1="300.5" y1="365.65" x2="303.5" y2="365.65" stroke="#1c1c1c" stroke-width="0.9"/>
<text x="297.90" y="367.95" font-size="6.4" fill="#3a3a3a" stroke="#3a3a3a" text-anchor="end" >0.25</text>
<line x1="300.5" y1="338.20" x2="303.5" y2="338.20" stroke="#1c1c1c" stroke-width="0.9"/>
<text x="297.90" y="340.50" font-size="6.4" fill="#3a3a3a" stroke="#3a3a3a" text-anchor="end" >0.50</text>
<line x1="300.5" y1="310.75" x2="303.5" y2="310.75" stroke="#1c1c1c" stroke-width="0.9"/>
<text x="297.90" y="313.05" font-size="6.4" fill="#3a3a3a" stroke="#3a3a3a" text-anchor="end" >0.75</text>
<line x1="300.5" y1="283.30" x2="303.5" y2="283.30" stroke="#1c1c1c" stroke-width="0.9"/>
<text x="297.90" y="285.60" font-size="6.4" fill="#3a3a3a" stroke="#3a3a3a" text-anchor="end" >1.00</text>
<line x1="313.00" y1="398.4" x2="313.00" y2="401.4" stroke="#1c1c1c" stroke-width="0.9"/>
<text x="313.00" y="409.90" font-size="6.4" fill="#3a3a3a" stroke="#3a3a3a" text-anchor="middle" >0</text>
<line x1="351.00" y1="398.4" x2="351.00" y2="401.4" stroke="#1c1c1c" stroke-width="0.9"/>
<text x="351.00" y="409.90" font-size="6.4" fill="#3a3a3a" stroke="#3a3a3a" text-anchor="middle" >12</text>
<line x1="389.00" y1="398.4" x2="389.00" y2="401.4" stroke="#1c1c1c" stroke-width="0.9"/>
<text x="389.00" y="409.90" font-size="6.4" fill="#3a3a3a" stroke="#3a3a3a" text-anchor="middle" >24</text>
<line x1="427.00" y1="398.4" x2="427.00" y2="401.4" stroke="#1c1c1c" stroke-width="0.9"/>
<text x="427.00" y="409.90" font-size="6.4" fill="#3a3a3a" stroke="#3a3a3a" text-anchor="middle" >36</text>
<line x1="465.00" y1="398.4" x2="465.00" y2="401.4" stroke="#1c1c1c" stroke-width="0.9"/>
<text x="465.00" y="409.90" font-size="6.4" fill="#3a3a3a" stroke="#3a3a3a" text-anchor="middle" >48</text>
<line x1="503.00" y1="398.4" x2="503.00" y2="401.4" stroke="#1c1c1c" stroke-width="0.9"/>
<text x="503.00" y="409.90" font-size="6.4" fill="#3a3a3a" stroke="#3a3a3a" text-anchor="middle" >60</text>
<text x="0" y="0" font-size="8.4" fill="#262626" text-anchor="middle" transform="translate(406.80,421.70000000000005) scale(0.56,1)" font-weight="bold" letter-spacing="0.6" stroke="#262626" stroke-width="0">Months from first relapse</text>
<text x="0" y="0" font-size="8.5" fill="#333" text-anchor="middle" transform="translate(280.40,338.1) rotate(-90) scale(0.685,1)" stroke="#333" stroke-width="0.25">Overall survival (%)</text>
<line x1="410.30" y1="281.60" x2="416.10" y2="281.60" stroke="#daa24a" stroke-width="1.6"/>
<line x1="413.20" y1="280.30" x2="413.20" y2="282.90" stroke="#daa24a" stroke-width="0.8"/>
<text x="0" y="0" font-size="6.4" fill="#3a3a3a" stroke="#3a3a3a" text-anchor="start" transform="translate(419.20,283.90) scale(0.945,1)" >Relapse 6-12 months</text>
<line x1="410.30" y1="289.50" x2="416.10" y2="289.50" stroke="#b4318a" stroke-width="1.6"/>
<line x1="413.20" y1="288.20" x2="413.20" y2="290.80" stroke="#b4318a" stroke-width="0.8"/>
<text x="0" y="0" font-size="6.4" fill="#3a3a3a" stroke="#3a3a3a" text-anchor="start" transform="translate(419.20,291.80) scale(0.945,1)" >Relapse 3-6 months</text>
<line x1="410.30" y1="297.20" x2="416.10" y2="297.20" stroke="#26486c" stroke-width="1.6"/>
<line x1="413.20" y1="295.90" x2="413.20" y2="298.50" stroke="#26486c" stroke-width="0.8"/>
<text x="0" y="0" font-size="6.4" fill="#3a3a3a" stroke="#3a3a3a" text-anchor="start" transform="translate(419.20,299.50) scale(0.945,1)" >Relapse within 3 months</text>
<line x1="410.30" y1="304.80" x2="416.10" y2="304.80" stroke="#4aa2c8" stroke-width="1.6"/>
<line x1="413.20" y1="303.50" x2="413.20" y2="306.10" stroke="#4aa2c8" stroke-width="0.8"/>
<text x="0" y="0" font-size="6.4" fill="#3a3a3a" stroke="#3a3a3a" text-anchor="start" transform="translate(419.20,307.10) scale(0.945,1)" >EOT PR</text>
<line x1="410.30" y1="312.80" x2="416.10" y2="312.80" stroke="#a8284c" stroke-width="1.6"/>
<line x1="413.20" y1="311.50" x2="413.20" y2="314.10" stroke="#a8284c" stroke-width="0.8"/>
<text x="0" y="0" font-size="6.4" fill="#3a3a3a" stroke="#3a3a3a" text-anchor="start" transform="translate(419.20,315.10) scale(0.945,1)" >Primary progressive disease (PPD)</text>
<text x="313.0" y="392.70000000000005" font-size="6.3" fill="#3a3a3a"><tspan font-style="italic">P</tspan> &lt; .0001</text>
<path d="M313.00,283.30H314.55V283.55H316.10V283.80H317.60V284.87H319.10V285.93H320.60V287.00H322.25V290.20H323.90V293.40H324.70V297.50H326.10V300.35H327.50V303.20H329.50V304.80L334.80,304.80H336.10V308.50L340.00,308.50H341.55V309.82H343.10V311.15H344.65V312.48H346.20V313.80H347.70V316.15H349.20V318.50H350.75V319.85H352.30V321.20H353.85V322.55H355.40V323.90L368.30,323.90H369.50V326.00L378.00,326.00H378.80V329.30H380.75V330.50H382.70V331.70H384.13V332.47H385.57V333.23H387.00V334.00L392.70,334.00L392.70,336.20L398.50,336.20L398.50,338.30L509.30,338.30" fill="none" stroke="#4aa2c8" stroke-width="1.15" stroke-linejoin="miter"/>
<path d="M313.00,283.30H314.57V284.37H316.13V285.43H317.70V286.50H319.00V293.80H320.20V296.30H322.20V298.95H324.20V301.60H325.90V306.90H327.10V309.10H328.30V311.30H330.15V315.15H332.00V319.00H333.62V322.62H335.25V326.25H336.88V329.88H338.50V333.50H339.95V334.70H341.40V335.90H342.85V337.10H344.30V338.30H345.98V339.02H347.65V339.75H349.32V340.48H351.00V341.20H352.54V341.56H354.08V341.92H355.62V342.28H357.16V342.64H358.70V343.00H360.15V344.00H361.60V345.00H363.05V346.00H364.50V347.00H365.93V347.95H367.35V348.90H368.77V349.85H370.20V350.80H371.89V351.04H373.57V351.27H375.26V351.51H376.95V351.75H378.64V351.99H380.32V352.23H382.01V352.46H383.70V352.70H385.23V352.89H386.76V353.08H388.29V353.27H389.82V353.46H391.35V353.65H392.88V353.84H394.41V354.03H395.94V354.22H397.47V354.41H399.00V354.60H400.69V354.84H402.38V355.08H404.06V355.31H405.75V355.55H407.44V355.79H409.12V356.02H410.81V356.26H412.50V356.50L419.00,356.50L419.00,358.50L485.20,358.50L485.20,360.80L503.50,360.80L503.50,365.30L510.00,365.30" fill="none" stroke="#a8284c" stroke-width="1.15" stroke-linejoin="miter"/>
<path d="M313.00,283.30L321.00,283.30L321.00,287.00H322.65V290.00H324.30V293.00H325.70V295.05H327.10V297.10L327.10,306.00L334.00,306.00L334.00,311.20L360.00,311.20H361.50V315.40H363.05V316.20H364.60V317.00L364.60,320.00H366.15V321.35H367.70V322.70H369.25V324.05H370.80V325.40H372.34V325.56H373.88V325.72H375.42V325.88H376.96V326.04H378.50V326.20H380.00V326.70H381.50V327.20H383.00V327.70L383.00,330.80L398.50,330.80L398.50,338.20L412.70,338.20L412.70,343.90L510.00,343.90" fill="none" stroke="#26486c" stroke-width="1.15" stroke-linejoin="miter"/>
<path d="M313.00,283.30H314.90V286.10H316.75V287.35H318.60V288.60H320.12V289.70H321.65V290.80H323.18V291.90H324.70V293.00L329.50,293.00L329.50,298.30L332.40,298.30L332.40,301.60L334.80,301.60L334.80,305.70L341.40,305.70L341.40,306.50L350.80,306.50L350.80,312.30L355.40,312.30L355.40,317.70L363.00,317.70H364.60V320.80H366.15V321.35H367.70V321.90H369.25V322.45H370.80V323.00H372.34V323.48H373.88V323.96H375.42V324.44H376.96V324.92H378.50V325.40H380.02V326.12H381.55V326.85H383.08V327.57H384.60V328.30L397.70,328.30L397.70,333.90L463.60,333.90L463.60,339.10L510.00,339.10" fill="none" stroke="#b4318a" stroke-width="1.15" stroke-linejoin="miter"/>
<path d="M313.00,283.30L324.30,283.30L324.30,284.30L334.00,284.30H335.60V291.00L342.10,291.00L342.10,298.00L356.20,298.00L356.20,306.00H358.10V307.50H360.00V309.00L374.60,309.00L374.60,313.00L380.80,313.00L380.80,316.80L414.60,316.80L414.60,323.90L510.40,323.90" fill="none" stroke="#daa24a" stroke-width="1.15" stroke-linejoin="miter"/>
<line x1="385.00" y1="315.30" x2="385.00" y2="318.30" stroke="#daa24a" stroke-width="0.8"/>
<line x1="388.00" y1="315.30" x2="388.00" y2="318.30" stroke="#daa24a" stroke-width="0.8"/>
<line x1="392.00" y1="315.30" x2="392.00" y2="318.30" stroke="#daa24a" stroke-width="0.8"/>
<line x1="396.00" y1="315.30" x2="396.00" y2="318.30" stroke="#daa24a" stroke-width="0.8"/>
<line x1="403.00" y1="315.30" x2="403.00" y2="318.30" stroke="#daa24a" stroke-width="0.8"/>
<line x1="437.00" y1="322.50" x2="437.00" y2="325.50" stroke="#daa24a" stroke-width="0.8"/>
<line x1="440.00" y1="322.50" x2="440.00" y2="325.50" stroke="#daa24a" stroke-width="0.8"/>
<line x1="444.00" y1="322.50" x2="444.00" y2="325.50" stroke="#daa24a" stroke-width="0.8"/>
<line x1="481.00" y1="322.50" x2="481.00" y2="325.50" stroke="#daa24a" stroke-width="0.8"/>
<line x1="504.00" y1="322.50" x2="504.00" y2="325.50" stroke="#daa24a" stroke-width="0.8"/>
<line x1="412.00" y1="332.30" x2="412.00" y2="335.30" stroke="#b4318a" stroke-width="0.8"/>
<line x1="419.00" y1="332.30" x2="419.00" y2="335.30" stroke="#b4318a" stroke-width="0.8"/>
<line x1="426.00" y1="332.30" x2="426.00" y2="335.30" stroke="#b4318a" stroke-width="0.8"/>
<line x1="440.00" y1="332.30" x2="440.00" y2="335.30" stroke="#b4318a" stroke-width="0.8"/>
<line x1="449.00" y1="332.30" x2="449.00" y2="335.30" stroke="#b4318a" stroke-width="0.8"/>
<line x1="470.00" y1="337.60" x2="470.00" y2="340.60" stroke="#b4318a" stroke-width="0.8"/>
<line x1="475.00" y1="337.60" x2="475.00" y2="340.60" stroke="#b4318a" stroke-width="0.8"/>
<line x1="481.00" y1="337.60" x2="481.00" y2="340.60" stroke="#b4318a" stroke-width="0.8"/>
<line x1="486.00" y1="337.60" x2="486.00" y2="340.60" stroke="#b4318a" stroke-width="0.8"/>
<line x1="492.00" y1="337.60" x2="492.00" y2="340.60" stroke="#b4318a" stroke-width="0.8"/>
<line x1="498.00" y1="337.60" x2="498.00" y2="340.60" stroke="#b4318a" stroke-width="0.8"/>
<line x1="504.00" y1="337.60" x2="504.00" y2="340.60" stroke="#b4318a" stroke-width="0.8"/>
<line x1="419.00" y1="336.80" x2="419.00" y2="339.80" stroke="#4aa2c8" stroke-width="0.8"/>
<line x1="430.00" y1="336.80" x2="430.00" y2="339.80" stroke="#4aa2c8" stroke-width="0.8"/>
<line x1="441.00" y1="336.80" x2="441.00" y2="339.80" stroke="#4aa2c8" stroke-width="0.8"/>
<line x1="452.00" y1="336.80" x2="452.00" y2="339.80" stroke="#4aa2c8" stroke-width="0.8"/>
<line x1="424.00" y1="342.40" x2="424.00" y2="345.40" stroke="#26486c" stroke-width="0.8"/>
<line x1="437.00" y1="342.40" x2="437.00" y2="345.40" stroke="#26486c" stroke-width="0.8"/>
<line x1="445.00" y1="342.40" x2="445.00" y2="345.40" stroke="#26486c" stroke-width="0.8"/>
<line x1="481.00" y1="342.40" x2="481.00" y2="345.40" stroke="#26486c" stroke-width="0.8"/>
<line x1="504.00" y1="342.40" x2="504.00" y2="345.40" stroke="#26486c" stroke-width="0.8"/>
<line x1="420.00" y1="357.00" x2="420.00" y2="360.00" stroke="#a8284c" stroke-width="0.8"/>
<line x1="425.00" y1="357.00" x2="425.00" y2="360.00" stroke="#a8284c" stroke-width="0.8"/>
<line x1="428.00" y1="357.00" x2="428.00" y2="360.00" stroke="#a8284c" stroke-width="0.8"/>
<line x1="438.00" y1="357.00" x2="438.00" y2="360.00" stroke="#a8284c" stroke-width="0.8"/>
<line x1="443.00" y1="357.00" x2="443.00" y2="360.00" stroke="#a8284c" stroke-width="0.8"/>
<line x1="448.00" y1="357.00" x2="448.00" y2="360.00" stroke="#a8284c" stroke-width="0.8"/>
<line x1="455.00" y1="357.00" x2="455.00" y2="360.00" stroke="#a8284c" stroke-width="0.8"/>
<line x1="463.00" y1="357.00" x2="463.00" y2="360.00" stroke="#a8284c" stroke-width="0.8"/>
<line x1="467.00" y1="357.00" x2="467.00" y2="360.00" stroke="#a8284c" stroke-width="0.8"/>
<line x1="471.00" y1="357.00" x2="471.00" y2="360.00" stroke="#a8284c" stroke-width="0.8"/>
<line x1="473.00" y1="357.00" x2="473.00" y2="360.00" stroke="#a8284c" stroke-width="0.8"/>
<line x1="489.00" y1="359.30" x2="489.00" y2="362.30" stroke="#a8284c" stroke-width="0.8"/>
<line x1="495.00" y1="359.30" x2="495.00" y2="362.30" stroke="#a8284c" stroke-width="0.8"/>
<line x1="498.00" y1="359.30" x2="498.00" y2="362.30" stroke="#a8284c" stroke-width="0.8"/>
<text x="277.2" y="432.8" font-size="6.3" fill="#3a3a3a" textLength="40.6" lengthAdjust="spacingAndGlyphs">Number at risk</text>
<text x="303.80" y="442.70" font-size="6.3" fill="#daa24a" stroke="#daa24a" text-anchor="end" >6-12 Months</text>
<text x="303.80" y="452.70" font-size="6.3" fill="#b4318a" stroke="#b4318a" text-anchor="end" >3-6 Months</text>
<text x="303.80" y="462.70" font-size="6.3" fill="#26486c" stroke="#26486c" text-anchor="end" >Within 3 Months</text>
<text x="303.80" y="472.70" font-size="6.3" fill="#4aa2c8" stroke="#4aa2c8" text-anchor="end" >EOT PR</text>
<text x="303.80" y="482.70" font-size="6.3" fill="#a8284c" stroke="#a8284c" text-anchor="end" >PPD</text>
<text x="313.00" y="442.70" font-size="6.3" fill="#daa24a" stroke="#daa24a" text-anchor="middle" >31</text>
<text x="351.00" y="442.70" font-size="6.3" fill="#daa24a" stroke="#daa24a" text-anchor="middle" >25</text>
<text x="389.00" y="442.70" font-size="6.3" fill="#daa24a" stroke="#daa24a" text-anchor="middle" >15</text>
<text x="427.00" y="442.70" font-size="6.3" fill="#daa24a" stroke="#daa24a" text-anchor="middle" >9</text>
<text x="465.00" y="442.70" font-size="6.3" fill="#daa24a" stroke="#daa24a" text-anchor="middle" >3</text>
<text x="503.00" y="442.70" font-size="6.3" fill="#daa24a" stroke="#daa24a" text-anchor="middle" >2</text>
<text x="313.00" y="452.70" font-size="6.3" fill="#b4318a" stroke="#b4318a" text-anchor="middle" >44</text>
<text x="351.00" y="452.70" font-size="6.3" fill="#b4318a" stroke="#b4318a" text-anchor="middle" >32</text>
<text x="389.00" y="452.70" font-size="6.3" fill="#b4318a" stroke="#b4318a" text-anchor="middle" >22</text>
<text x="427.00" y="452.70" font-size="6.3" fill="#b4318a" stroke="#b4318a" text-anchor="middle" >15</text>
<text x="465.00" y="452.70" font-size="6.3" fill="#b4318a" stroke="#b4318a" text-anchor="middle" >9</text>
<text x="503.00" y="452.70" font-size="6.3" fill="#b4318a" stroke="#b4318a" text-anchor="middle" >2</text>
<text x="313.00" y="462.70" font-size="6.3" fill="#26486c" stroke="#26486c" text-anchor="middle" >21</text>
<text x="351.00" y="462.70" font-size="6.3" fill="#26486c" stroke="#26486c" text-anchor="middle" >15</text>
<text x="389.00" y="462.70" font-size="6.3" fill="#26486c" stroke="#26486c" text-anchor="middle" >9</text>
<text x="427.00" y="462.70" font-size="6.3" fill="#26486c" stroke="#26486c" text-anchor="middle" >6</text>
<text x="465.00" y="462.70" font-size="6.3" fill="#26486c" stroke="#26486c" text-anchor="middle" >4</text>
<text x="503.00" y="462.70" font-size="6.3" fill="#26486c" stroke="#26486c" text-anchor="middle" >2</text>
<text x="313.00" y="472.70" font-size="6.3" fill="#4aa2c8" stroke="#4aa2c8" text-anchor="middle" >66</text>
<text x="351.00" y="472.70" font-size="6.3" fill="#4aa2c8" stroke="#4aa2c8" text-anchor="middle" >39</text>
<text x="389.00" y="472.70" font-size="6.3" fill="#4aa2c8" stroke="#4aa2c8" text-anchor="middle" >25</text>
<text x="427.00" y="472.70" font-size="6.3" fill="#4aa2c8" stroke="#4aa2c8" text-anchor="middle" >13</text>
<text x="465.00" y="472.70" font-size="6.3" fill="#4aa2c8" stroke="#4aa2c8" text-anchor="middle" >7</text>
<text x="503.00" y="472.70" font-size="6.3" fill="#4aa2c8" stroke="#4aa2c8" text-anchor="middle" >2</text>
<text x="313.00" y="482.70" font-size="6.3" fill="#a8284c" stroke="#a8284c" text-anchor="middle" >145</text>
<text x="351.00" y="482.70" font-size="6.3" fill="#a8284c" stroke="#a8284c" text-anchor="middle" >62</text>
<text x="389.00" y="482.70" font-size="6.3" fill="#a8284c" stroke="#a8284c" text-anchor="middle" >41</text>
<text x="427.00" y="482.70" font-size="6.3" fill="#a8284c" stroke="#a8284c" text-anchor="middle" >27</text>
<text x="465.00" y="482.70" font-size="6.3" fill="#a8284c" stroke="#a8284c" text-anchor="middle" >15</text>
<text x="503.00" y="482.70" font-size="6.3" fill="#a8284c" stroke="#a8284c" text-anchor="middle" >6</text>
<rect x="0.5" y="0.5" width="519" height="490" fill="none" stroke="#5e5e5e" stroke-width="1"/>
</svg>
</body></html>
